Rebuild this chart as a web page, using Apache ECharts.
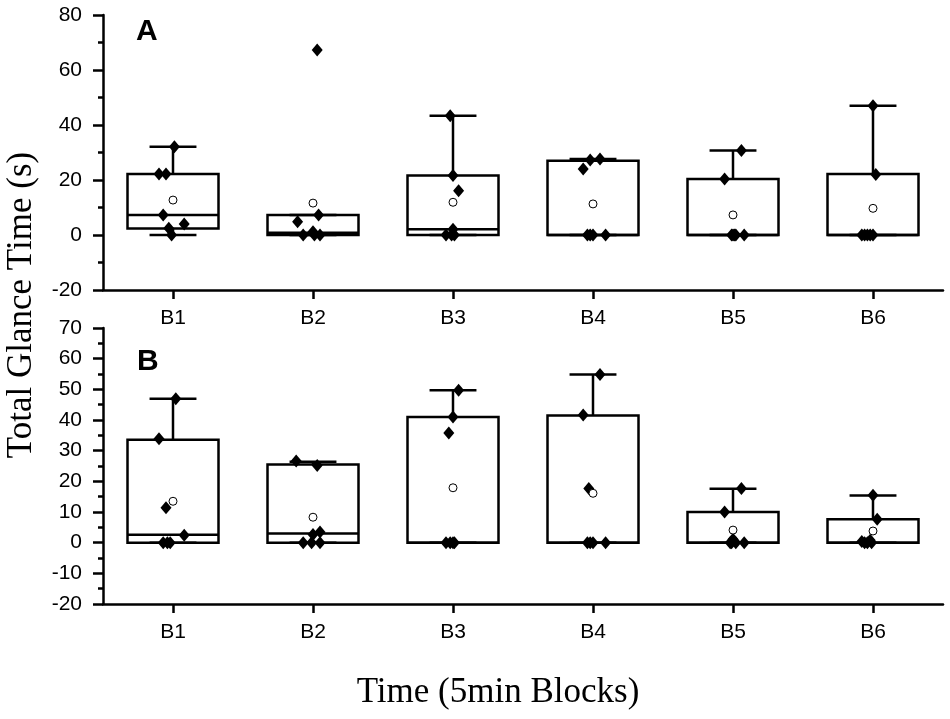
<!DOCTYPE html>
<html>
<head>
<meta charset="utf-8">
<script src="https://cdn.jsdelivr.net/npm/echarts@6/dist/echarts.min.js"></script>
<style>html,body{margin:0;padding:0;background:#fff}#c{width:950px;height:719px}</style>
</head>
<body>
<div id="c"></div>
<script>
// ---------- data ----------
var categories = ['B1', 'B2', 'B3', 'B4', 'B5', 'B6'];

// Panel A box stats: [lower whisker, Q1, median, Q3, upper whisker]
var boxA = [
  [0, 2.4, 7.3, 22.2, 32.1],
  [0, 0, 0.8, 7.3, 7.3],
  [0, 0, 2.1, 21.6, 43.4],
  [0, 0, 0, 27.0, 27.6],
  [0, 0, 0, 20.4, 30.7],
  [0, 0, 0, 22.2, 47.0]
];
var meanA = [12.7, 11.6, 11.9, 11.3, 7.3, 9.7];
var pointsA = [
  [32.1, 22.2, 22.2, 7.3, 4.0, 2.5, 0],
  [67.3, 7.3, 4.8, 1.2, 0, 0, 0],
  [43.4, 21.6, 16.1, 2.1, 0, 0, 0],
  [27.6, 27.3, 24.0, 0, 0, 0, 0],
  [30.7, 20.4, 0, 0, 0, 0, 0],
  [47.0, 22.0, 0, 0, 0, 0, 0]
];
var jitterA = [
  [0.01, -0.10, -0.05, -0.07, 0.08, -0.03, -0.01],
  [0.03, 0.04, -0.11, 0, -0.07, 0.05, 0.01],
  [-0.02, 0, 0.04, 0, -0.05, -0.01, 0.01],
  [0.05, -0.02, -0.07, -0.04, -0.02, 0, 0.09],
  [0.06, -0.06, -0.01, 0, 0.01, 0.02, 0.08],
  [0, 0.02, -0.08, -0.06, -0.04, -0.02, 0]
];

// Panel B
var boxB = [
  [0, 0, 2.6, 33.6, 46.9],
  [0, 0, 3.0, 25.5, 26.4],
  [0, 0, 0, 41.0, 49.7],
  [0, 0, 0, 41.5, 54.8],
  [0, 0, 0, 10.0, 17.6],
  [0, 0, 0, 7.6, 15.4]
];
var meanB = [13.5, 8.3, 17.9, 16.1, 4.1, 3.8];
var pointsB = [
  [46.9, 33.9, 11.4, 2.4, 0, 0, 0],
  [26.6, 25.2, 3.5, 2.7, 0, 0, 0],
  [49.7, 41.0, 35.8, 0, 0, 0, 0],
  [54.8, 41.6, 17.7, 0, 0, 0, 0],
  [17.7, 10.0, 1.1, 0, 0, 0, 0],
  [15.5, 7.6, 0.8, 0.4, 0, 0, 0]
];
var jitterB = [
  [0.02, -0.10, -0.05, 0.08, -0.07, -0.02, -0.04],
  [-0.12, 0.03, 0.05, 0, -0.07, 0.05, -0.01],
  [0.04, 0, -0.03, -0.05, -0.02, 0, 0.01],
  [0.05, -0.07, -0.03, -0.04, -0.02, 0, 0.09],
  [0.06, -0.06, 0, -0.02, -0.01, 0.02, 0.08],
  [0, 0.03, -0.02, -0.08, -0.06, -0.04, -0.01]
];

var yTicksA = {min: -20, max: 80, interval: 20};
var yTicksB = {min: -20, max: 70, interval: 10};

var xTitle = 'Time (5min Blocks)';
var yTitle = 'Total Glance Time (s)';

// ---------- build ----------
var SANS = 'Liberation Sans, Arial, sans-serif';
var SERIF = 'Liberation Serif, Times New Roman, serif';

function boxData(stats) {
  return stats.map(function (s, i) { return [i].concat(s); });
}
function pointData(pts, jit) {
  var out = [];
  pts.forEach(function (arr, i) {
    arr.forEach(function (v, j) { out.push([i + jit[i][j], v]); });
  });
  return out;
}
function meanData(m) { return m.map(function (v, i) { return [i, v]; }); }

function renderBox(params, api) {
  var x = api.value(0);
  var lo = api.value(1), q1 = api.value(2), med = api.value(3), q3 = api.value(4), hi = api.value(5);
  var band = api.size([1, 0])[0];
  var bw = band * 0.65, cw = band * 0.335;
  var pLo = api.coord([x, lo]), pQ1 = api.coord([x, q1]), pMed = api.coord([x, med]),
      pQ3 = api.coord([x, q3]), pHi = api.coord([x, hi]);
  var cx = pQ1[0];
  var st = {stroke: '#000', lineWidth: 2.5, fill: null};
  return {
    type: 'group',
    children: [
      {type: 'line', shape: {x1: cx, y1: pQ3[1], x2: cx, y2: pHi[1]}, style: st},
      {type: 'line', shape: {x1: cx, y1: pQ1[1], x2: cx, y2: pLo[1]}, style: st},
      {type: 'line', shape: {x1: cx - cw / 2, y1: pHi[1], x2: cx + cw / 2, y2: pHi[1]}, style: st},
      {type: 'line', shape: {x1: cx - cw / 2, y1: pLo[1], x2: cx + cw / 2, y2: pLo[1]}, style: st},
      {type: 'rect', shape: {x: cx - bw / 2, y: pQ3[1], width: bw, height: pQ1[1] - pQ3[1]},
        style: {stroke: '#000', lineWidth: 2.5, fill: 'none'}},
      {type: 'line', shape: {x1: cx - bw / 2, y1: pMed[1], x2: cx + bw / 2, y2: pMed[1]}, style: st}
    ]
  };
}

function catAxis(gi) {
  return {
    type: 'category', gridIndex: gi, data: categories, boundaryGap: true,
    axisLine: {show: true, onZero: false, lineStyle: {color: '#000', width: 2.5}},
    axisTick: {show: true, alignWithLabel: true, length: 9, lineStyle: {color: '#000', width: 2.5}},
    axisLabel: {color: '#000', fontFamily: SANS, fontSize: 21, margin: 18},
    splitLine: {show: false}
  };
}
function hiddenX(gi) {
  return {type: 'value', gridIndex: gi, min: -0.5, max: 5.5, show: false, splitLine: {show: false}};
}
function valAxis(gi, t) {
  return {
    type: 'value', gridIndex: gi, min: t.min, max: t.max, interval: t.interval, position: 'left',
    axisLine: {show: true, onZero: false, lineStyle: {color: '#000', width: 2.5}},
    axisTick: {show: true, length: 10, lineStyle: {color: '#000', width: 2.5}},
    minorTick: {show: true, splitNumber: 2, length: 5, lineStyle: {color: '#000', width: 2.5}},
    axisLabel: {color: '#000', fontFamily: SANS, fontSize: 21, margin: 21},
    splitLine: {show: false}
  };
}

function seriesFor(gi, stats, pts, jit, means) {
  return [
    {type: 'custom', xAxisIndex: gi, yAxisIndex: gi, renderItem: renderBox,
      encode: {x: 0, y: [1, 2, 3, 4, 5]}, data: boxData(stats), z: 2, silent: true},
    {type: 'scatter', xAxisIndex: gi + 2, yAxisIndex: gi, data: pointData(pts, jit),
      symbol: 'diamond', symbolSize: [11, 13], itemStyle: {color: '#000', opacity: 1}, z: 3, silent: true},
    {type: 'scatter', xAxisIndex: gi, yAxisIndex: gi, data: meanData(means),
      symbol: 'circle', symbolSize: 8, itemStyle: {color: '#fff', borderColor: '#000', borderWidth: 1, opacity: 1}, z: 4, silent: true}
  ];
}

var chart = echarts.init(document.getElementById('c'), null, {renderer: 'canvas'});
chart.setOption({
  animation: false,
  backgroundColor: '#fff',
  grid: [
    {left: 103, top: 15, width: 840, height: 275},
    {left: 103, top: 328, width: 840, height: 276}
  ],
  xAxis: [catAxis(0), catAxis(1), hiddenX(0), hiddenX(1)],
  yAxis: [valAxis(0, yTicksA), valAxis(1, yTicksB)],
  series: [].concat(seriesFor(0, boxA, pointsA, jitterA, meanA), seriesFor(1, boxB, pointsB, jitterB, meanB)),
  graphic: [
    {type: 'text', left: 136, top: 17, style: {text: 'A', fontFamily: SANS, fontWeight: 'bold', fontSize: 30, fill: '#000'}},
    {type: 'text', left: 137, top: 347, style: {text: 'B', fontFamily: SANS, fontWeight: 'bold', fontSize: 30, fill: '#000'}},
    {type: 'text', x: 498, y: 693, style: {text: xTitle, fontFamily: SERIF, fontSize: 35, fill: '#000', align: 'center', verticalAlign: 'middle'}},
    {type: 'text', x: 22, y: 305, rotation: Math.PI / 2, style: {text: yTitle, fontFamily: SERIF, fontSize: 35, fill: '#000', align: 'center', verticalAlign: 'middle'}}
  ]
});
</script>
</body>
</html>
